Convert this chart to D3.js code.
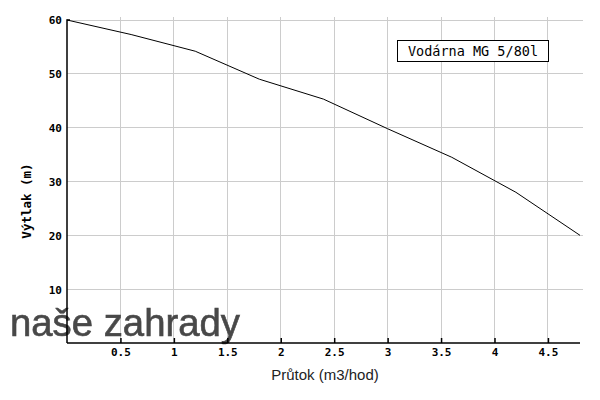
<!DOCTYPE html>
<html><head><meta charset="utf-8">
<script src="https://cdn.jsdelivr.net/npm/d3@7"></script>
<style>body{margin:0;background:#fff}</style>
</head><body>
<svg id="c" width="600" height="400"></svg>
<script>
const flow = [0, 0.6, 1.2, 1.8, 2.4, 3.0, 3.6, 4.2, 4.8];
const head = [60, 57.3, 54.2, 49, 45.3, 39.8, 34.5, 28, 20];
const xTicks = [0.5, 1, 1.5, 2, 2.5, 3, 3.5, 4, 4.5];
const yTicks = [10, 20, 30, 40, 50, 60];
const title = "Vodárna MG 5/80l";
const xLabel = "Průtok (m3/hod)";
const yLabel = "Výtlak (m)";

const svg = d3.select("#c");
const x = d3.scaleLinear().domain([0, 4.8]).range([67, 580]);
const y = d3.scaleLinear().domain([0, 60]).range([343, 20]);

// grid
svg.append("g").selectAll("line").data(xTicks).join("line")
  .attr("x1", d => x(d)).attr("x2", d => x(d)).attr("y1", 17).attr("y2", 343)
  .attr("stroke", "#cccccc").attr("stroke-width", 1).attr("shape-rendering", "crispEdges");
svg.append("g").selectAll("line").data(yTicks).join("line")
  .attr("x1", 67).attr("x2", 583).attr("y1", d => y(d)).attr("y2", d => y(d))
  .attr("stroke", "#cccccc").attr("stroke-width", 1).attr("shape-rendering", "crispEdges");

// watermark
svg.append("text").attr("x", 10).attr("y", 336).text("naše zahrady")
  .attr("font-family", "Liberation Sans, Arial, sans-serif").attr("font-size", 38)
  .attr("textLength", 230).attr("lengthAdjust", "spacingAndGlyphs")
  .attr("fill", "#484848").attr("stroke", "#484848").attr("stroke-width", 0.6)
  .style("filter", "blur(0.6px)");

// axes
const xa = svg.append("g").attr("transform", "translate(0,343)")
  .call(d3.axisBottom(x).tickValues(xTicks).tickSize(-5).tickPadding(5).tickFormat(d3.format("")));
const ya = svg.append("g").attr("transform", "translate(67,0)")
  .call(d3.axisLeft(y).tickValues(yTicks).tickSize(0).tickPadding(5));
[xa, ya].forEach(a => {
  a.select(".domain").attr("stroke", "#000").attr("stroke-width", 1.5);
  a.selectAll("text").attr("font-family", "DejaVu Sans Mono, monospace").attr("font-weight", "bold")
   .attr("font-size", 11).attr("fill", "#000");
});
ya.select(".domain").attr("d", "M0,343V20h3");
xa.select(".domain").attr("d", "M67,0H580");
xa.selectAll(".tick line").attr("stroke", "#000").attr("stroke-width", 1.5);
xa.selectAll(".tick text").attr("y", 5).attr("dy", "0.71em");
ya.selectAll("text").attr("dy", "0.35em");

// line
svg.append("path").datum(flow.map((f, i) => [f, head[i]]))
  .attr("d", d3.line().x(d => x(d[0])).y(d => y(d[1])))
  .attr("fill", "none").attr("stroke", "#000").attr("stroke-width", 1);

// title box
svg.append("rect").attr("x", 397.5).attr("y", 40.5).attr("width", 151).attr("height", 21)
  .attr("fill", "#fff").attr("stroke", "#000");
svg.append("text").attr("x", 473).attr("y", 56).attr("text-anchor", "middle").text(title)
  .attr("font-family", "DejaVu Sans Mono, monospace").attr("font-size", 13.5).attr("fill", "#000");

// axis labels
svg.append("text").attr("x", 325).attr("y", 380).attr("text-anchor", "middle").text(xLabel)
  .attr("font-family", "Liberation Sans, Arial, sans-serif").attr("font-size", 15).attr("fill", "#222");
svg.append("text").attr("transform", "translate(31,201) rotate(-90)").attr("text-anchor", "middle").text(yLabel)
  .attr("font-family", "DejaVu Sans Mono, monospace").attr("font-weight", "bold").attr("font-size", 12.5).attr("fill", "#000");
</script>
</body></html>
